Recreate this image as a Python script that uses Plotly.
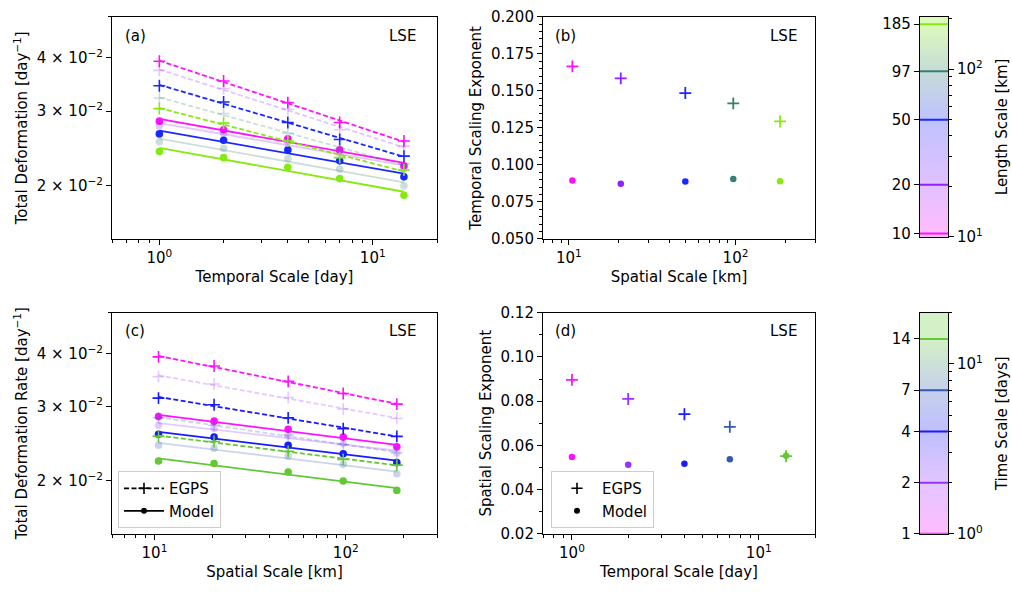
import numpy as np
import plotly.graph_objects as go

# ---- data -----------------------------------------------------------------
time_scales = [1, 2, 4, 7, 14]               # days
space_scales = [10.5, 20.5, 50, 97, 185]     # km
space_labels = ["10", "20", "50", "97", "185"]
time_labels = ["1", "2", "4", "7", "14"]

# total deformation rate [1/day]; rows: spatial scale, columns: temporal scale
egps_rate = [
    [0.0393, 0.0353, 0.0314, 0.0282, 0.0255],
    [0.0374, 0.0339, 0.0303, 0.0271, 0.0248],
    [0.0344, 0.0315, 0.0282, 0.0257, 0.0235],
    [0.0322, 0.0296, 0.0266, 0.0244, 0.0225],
    [0.0304, 0.0281, 0.0255, 0.0233, 0.0218],
]
model_rate = [
    [0.0284, 0.0271, 0.0258, 0.0243, 0.0223],
    [0.0277, 0.0266, 0.0254, 0.0239, 0.0220],
    [0.0265, 0.0256, 0.0243, 0.0229, 0.0210],
    [0.0254, 0.0245, 0.0232, 0.0219, 0.0200],
    [0.0241, 0.0233, 0.0221, 0.0208, 0.0190],
]

# scaling exponents
temporal_exp_egps = [0.1665, 0.1584, 0.1485, 0.1415, 0.1293]
temporal_exp_model = [0.0894, 0.0872, 0.0888, 0.0905, 0.0890]
spatial_exp_egps = [0.0896, 0.0810, 0.0741, 0.0684, 0.0551]
spatial_exp_model = [0.0548, 0.0512, 0.0517, 0.0537, 0.0553]

space_colors = ["#ff11ff", "#9420ff", "#1a28ff", "#34806f", "#84ea10"]
time_colors = ["#ff11ff", "#9a30ff", "#1a1aff", "#3359b5", "#62c834"]
faded = [1, 3]      # series drawn semi-transparent in the rate panels

W, H = 1012, 603
FONT = "DejaVu Sans"
FS = 15


def dom_x(a, b):
    return [a / W, b / W]


def dom_y(top, bottom):
    return [1 - bottom / H, 1 - top / H]


def minor_log(lo, hi):
    vals = []
    for e in range(-3, 4):
        for m in range(2, 10):
            v = m * 10.0 ** e
            if lo <= v <= hi:
                vals.append(v)
    return vals


def axis_common(domain, anchor):
    return dict(domain=domain, anchor=anchor, showline=True, linecolor="black",
                linewidth=1.1, mirror=True, showgrid=False, zeroline=False,
                ticks="outside", ticklen=5, tickwidth=1, tickcolor="black",
                tickfont=dict(family=FONT, size=FS, color="black"))


def log_axis(lo, hi, tickvals, ticktext, domain, anchor, title=None):
    ax = axis_common(domain, anchor)
    ax.update(type="log", range=[np.log10(lo), np.log10(hi)],
              tickmode="array", tickvals=tickvals, ticktext=ticktext,
              minor=dict(tickmode="array", tickvals=minor_log(lo, hi),
                         ticks="outside", ticklen=3, tickwidth=0.8, tickcolor="black"))
    if title:
        ax["title"] = dict(text=title, font=dict(family=FONT, size=FS, color="black"),
                           standoff=5)
    return ax


def lin_axis(lo, hi, dtick, minor_dtick, fmt, domain, anchor, title):
    ax = axis_common(domain, anchor)
    ax.update(range=[lo, hi], dtick=dtick, tick0=lo, tickformat=fmt,
              minor=dict(dtick=minor_dtick, tick0=lo, ticks="outside", ticklen=3,
                         tickwidth=0.8, tickcolor="black"),
              title=dict(text=title, font=dict(family=FONT, size=FS, color="black"),
                         standoff=5))
    return ax


def power_fit(x, y):
    k, b = np.polyfit(np.log10(x), np.log10(y), 1)
    xs = np.array([x[0], x[-1]], dtype=float)
    return xs, 10 ** (k * np.log10(xs) + b)


fig = go.Figure()

row_a = dom_y(8, 237)
row_c = dom_y(313, 541)
col_l = dom_x(112, 437)
col_r = dom_x(543, 815)
col_cb = dom_x(920, 948)
cb1_dom = dom_y(8, 235)
cb2_dom = dom_y(313, 541)

E = np.array(egps_rate)
M = np.array(model_rate)

# ---- (a) rate vs temporal scale, one series per spatial scale --------------
for i, c in enumerate(space_colors):
    op = 0.25 if i in faded else 1.0
    for data, dash, sym, size in ((E[i], "5px,2.5px", "cross-thin", 8.5),
                                  (M[i], "solid", "circle", 6)):
        xs, ys = power_fit(time_scales, data)
        fig.add_trace(go.Scatter(x=xs, y=ys, mode="lines", xaxis="x", yaxis="y",
                                 line=dict(color=c, width=1.8, dash=dash),
                                 opacity=op, showlegend=False, hoverinfo="skip"))
        fig.add_trace(go.Scatter(x=time_scales, y=data, mode="markers", xaxis="x", yaxis="y",
                                 marker=dict(symbol=sym, size=size, color=c,
                                             line=dict(width=1.6, color=c)),
                                 opacity=op, showlegend=False))

# ---- (c) rate vs spatial scale, one series per temporal scale --------------
for j, c in enumerate(time_colors):
    op = 0.25 if j in faded else 1.0
    for data, dash, sym, size in ((E[:, j], "5px,2.5px", "cross-thin", 8.5),
                                  (M[:, j], "solid", "circle", 6)):
        xs, ys = power_fit(space_scales, data)
        fig.add_trace(go.Scatter(x=xs, y=ys, mode="lines", xaxis="x3", yaxis="y3",
                                 line=dict(color=c, width=1.8, dash=dash),
                                 opacity=op, showlegend=False, hoverinfo="skip"))
        fig.add_trace(go.Scatter(x=space_scales, y=data, mode="markers", xaxis="x3", yaxis="y3",
                                 marker=dict(symbol=sym, size=size, color=c,
                                             line=dict(width=1.6, color=c)),
                                 opacity=op, showlegend=False))

# ---- (b) temporal exponent vs spatial scale --------------------------------
fig.add_trace(go.Scatter(x=space_scales, y=temporal_exp_egps, mode="markers",
                         xaxis="x2", yaxis="y2", showlegend=False,
                         marker=dict(symbol="cross-thin", size=8.5, color=space_colors,
                                     line=dict(width=1.8, color=space_colors))))
fig.add_trace(go.Scatter(x=space_scales, y=temporal_exp_model, mode="markers",
                         xaxis="x2", yaxis="y2", showlegend=False,
                         marker=dict(symbol="circle", size=6.5, color=space_colors)))

# ---- (d) spatial exponent vs temporal scale --------------------------------
fig.add_trace(go.Scatter(x=time_scales, y=spatial_exp_egps, mode="markers",
                         xaxis="x4", yaxis="y4", showlegend=False,
                         marker=dict(symbol="cross-thin", size=8.5, color=time_colors,
                                     line=dict(width=1.8, color=time_colors))))
fig.add_trace(go.Scatter(x=time_scales, y=spatial_exp_model, mode="markers",
                         xaxis="x4", yaxis="y4", showlegend=False,
                         marker=dict(symbol="circle", size=6.5, color=time_colors)))

# ---- legends ---------------------------------------------------------------
fig.add_trace(go.Scatter(x=[None], y=[None], mode="lines+markers", name="EGPS",
                         xaxis="x3", yaxis="y3", legend="legend",
                         line=dict(color="black", width=1.8, dash="5px,2.5px"),
                         marker=dict(symbol="cross-thin", size=8,
                                     line=dict(width=1.6, color="black"))))
fig.add_trace(go.Scatter(x=[None], y=[None], mode="lines+markers", name="Model",
                         xaxis="x3", yaxis="y3", legend="legend",
                         line=dict(color="black", width=1.8),
                         marker=dict(symbol="circle", size=6, color="black")))
fig.add_trace(go.Scatter(x=[None], y=[None], mode="markers", name="EGPS",
                         xaxis="x4", yaxis="y4", legend="legend2",
                         marker=dict(symbol="cross-thin", size=8, color="black",
                                     line=dict(width=1.6, color="black"))))
fig.add_trace(go.Scatter(x=[None], y=[None], mode="markers", name="Model",
                         xaxis="x4", yaxis="y4", legend="legend2",
                         marker=dict(symbol="circle", size=6, color="black")))


# ---- colour bars -----------------------------------------------------------
def colour_bar(values, colors, lo, hi, xa, ya, ya_right):
    llo, lhi = np.log10(lo), np.log10(hi)
    pos = [(np.log10(v) - llo) / (lhi - llo) for v in values]
    scale = [[0.0, colors[0]]] + [[min(max(p, 0.0), 1.0), c] for p, c in zip(pos, colors)]
    scale = sorted(scale, key=lambda s: s[0])
    if scale[-1][0] < 1.0:
        scale.append([1.0, colors[-1]])
    ys = np.logspace(llo, lhi, 240)
    fig.add_trace(go.Heatmap(x=[0, 1], y=ys, z=[[v, v] for v in np.log10(ys)],
                             zmin=llo, zmax=lhi, colorscale=scale, showscale=False,
                             opacity=0.28, xaxis=xa, yaxis=ya, hoverinfo="skip"))
    # level lines live on the right-hand (power-of-ten) axis, which shares the range
    for v, c in zip(values, colors):
        fig.add_trace(go.Scatter(x=[0, 1], y=[v, v], mode="lines", xaxis=xa, yaxis=ya_right,
                                 line=dict(color=c, width=2), showlegend=False,
                                 hoverinfo="skip"))


colour_bar(space_scales, space_colors, 10, 205, "x5", "y5", "y7")
colour_bar(time_scales, time_colors, 1, 20, "x6", "y6", "y8")

# ---- layout ----------------------------------------------------------------
sup = "10<sup>%d</sup>"
ylab_vals = [0.02, 0.03, 0.04]
ylab_text = ["2 × 10<sup>−2</sup>", "3 × 10<sup>−2</sup>", "4 × 10<sup>−2</sup>"]

layout = dict(
    width=W, height=H, margin=dict(l=0, r=0, t=0, b=0),
    paper_bgcolor="white", plot_bgcolor="white",
    font=dict(family=FONT, size=FS, color="black"),
    xaxis=log_axis(0.6, 20, [1, 10], [sup % 0, sup % 1], col_l, "y",
                   "Temporal Scale [day]"),
    yaxis=log_axis(0.015, 0.05, ylab_vals, ylab_text, row_a, "x",
                   "Total Deformation [day<sup>−1</sup>]"),
    xaxis2=log_axis(7, 300, [10, 100], [sup % 1, sup % 2], col_r, "y2",
                    "Spatial Scale [km]"),
    yaxis2=lin_axis(0.05, 0.2, 0.025, 0.005, ".3f", row_a, "x2",
                    "Temporal Scaling Exponent"),
    xaxis3=log_axis(6, 300, [10, 100], [sup % 1, sup % 2], col_l, "y3",
                    "Spatial Scale [km]"),
    yaxis3=log_axis(0.015, 0.05, ylab_vals, ylab_text, row_c, "x3",
                    "Total Deformation Rate [day<sup>−1</sup>]"),
    xaxis4=log_axis(0.7, 20, [1, 10], [sup % 0, sup % 1], col_r, "y4",
                    "Temporal Scale [day]"),
    yaxis4=lin_axis(0.02, 0.12, 0.02, 0.01, ".2f", row_c, "x4",
                    "Spatial Scaling Exponent"),
)

for xa, ya, dom, lo, hi, vals, labels, right_vals, title, yr in (
        ("xaxis5", "yaxis5", cb1_dom, 10, 205, space_scales, space_labels, [10, 100],
         "Length Scale [km]", "yaxis7"),
        ("xaxis6", "yaxis6", cb2_dom, 1, 20, time_scales, time_labels, [1, 10],
         "Time Scale [days]", "yaxis8")):
    xname = "x" + xa[5:]
    yname = "y" + ya[5:]
    layout[xa] = dict(domain=col_cb, anchor=yname, range=[0, 1], showline=True,
                      linecolor="black", linewidth=1.4, mirror=True, showgrid=False,
                      zeroline=False, showticklabels=False, ticks="")
    ax = log_axis(lo, hi, vals, labels, dom, xname)
    ax["minor"] = dict(ticks="")
    ax["linewidth"] = 1.4
    layout[ya] = ax
    rax = log_axis(lo, hi, right_vals,
                   [sup % int(round(np.log10(v))) for v in right_vals], dom, xname, title)
    rax.update(overlaying=yname, side="right", mirror=False, showline=False)
    rax["title"]["standoff"] = 14
    layout[yr] = rax

legend_style = dict(bgcolor="rgba(255,255,255,0.8)", bordercolor="#cccccc", borderwidth=1,
                    font=dict(family=FONT, size=FS, color="black"),
                    xanchor="left", yanchor="bottom", tracegroupgap=0, itemwidth=40)
layout["legend"] = dict(x=118 / W, y=1 - 535 / H, **legend_style)
layout["legend2"] = dict(x=551 / W, y=1 - 535 / H, **legend_style)

fig.update_layout(**layout)

# panel letters and region tags
for xr, yr, letter in (("x", "y", "(a)"), ("x2", "y2", "(b)"),
                       ("x3", "y3", "(c)"), ("x4", "y4", "(d)")):
    fig.add_annotation(text=letter, xref=xr + " domain", yref=yr + " domain",
                       x=0.035, y=0.915, xanchor="left", yanchor="middle",
                       showarrow=False, font=dict(family=FONT, size=FS, color="black"))
    fig.add_annotation(text="LSE", xref=xr + " domain", yref=yr + " domain",
                       x=0.94, y=0.915, xanchor="right", yanchor="middle",
                       showarrow=False, font=dict(family=FONT, size=FS, color="black"))

fig.write_html("out.html")
